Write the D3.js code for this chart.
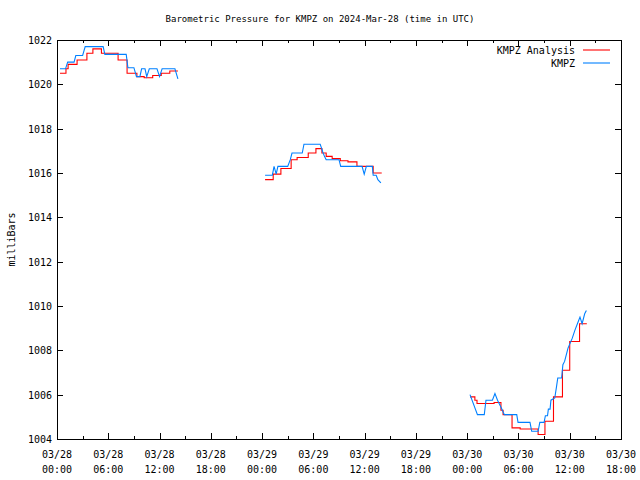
<!DOCTYPE html>
<html>
<head>
<meta charset="utf-8">
<script src="https://cdn.jsdelivr.net/npm/d3@7"></script>
<style>
  body { margin: 0; background: #fff; }
  #chart { width: 640px; height: 480px; }
  text { font-family: "DejaVu Sans Mono", monospace; font-size: 10px; fill: #000; }
  .axis path, .axis line { stroke: #000; shape-rendering: crispEdges; }
</style>
</head>
<body>
<div id="chart"></div>
<script>
// hours since 2024-03-28 00:00 UTC, value in mb
const analysisDay1 = [[0.35,1020.5],[1.05,1020.7],[1.3,1020.9],[2.35,1021.1],[3.5,1021.4],[4.2,1021.6],[5.2,1021.4],[7.15,1021.1],[8.2,1020.5],[9.35,1020.35],[10.2,1020.3],[11.2,1020.4],[12.2,1020.5],[13.2,1020.6],[14.15,1020.6]];
const analysisDay2 = [[24.35,1015.7],[25.3,1015.95],[26.2,1016.2],[27.4,1016.6],[28.1,1016.7],[29.4,1016.9],[30.3,1017.1],[31.0,1016.9],[31.5,1016.75],[32.2,1016.65],[33.15,1016.55],[34.05,1016.5],[35.1,1016.3],[37.0,1016.0],[38.0,1016.0]];
const analysisDay3 = [[48.33,1005.9],[48.9,1005.75],[49.15,1005.6],[51.15,1005.65],[51.95,1005.3],[52.2,1005.1],[53.25,1004.5],[54.2,1004.45],[56.3,1004.2],[57.1,1004.8],[58.1,1005.9],[59.15,1007.1],[60.0,1008.4],[61.15,1009.2],[62.0,1009.2]];

const obsDay1 = [[0.35,1020.7],[1.0,1020.7],[1.25,1021.0],[2.0,1021.0],[2.2,1021.3],[3.0,1021.3],[3.3,1021.7],[5.4,1021.7],[5.6,1021.35],[8.1,1021.35],[8.3,1020.75],[9.0,1020.75],[9.3,1020.35],[9.7,1020.35],[9.9,1020.7],[10.3,1020.7],[10.5,1020.35],[10.8,1020.7],[11.7,1020.7],[12.0,1020.35],[12.3,1020.7],[13.8,1020.7],[14.15,1020.25]];
const obsDay2 = [[24.35,1015.9],[25.2,1015.9],[25.4,1016.3],[25.65,1015.95],[25.85,1016.3],[27.0,1016.3],[27.3,1016.6],[27.5,1016.9],[28.7,1016.9],[28.9,1017.3],[30.8,1017.3],[31.1,1016.95],[31.3,1016.75],[31.5,1016.6],[33.0,1016.6],[33.2,1016.3],[35.7,1016.3],[35.95,1015.95],[36.2,1016.3],[36.9,1016.3],[37.0,1015.9],[37.35,1015.9],[37.55,1015.7],[37.9,1015.55]];
const obsDay3 = [[48.33,1006.0],[49.2,1005.1],[50.0,1005.1],[50.2,1005.75],[50.95,1005.75],[51.25,1006.05],[51.55,1005.75],[52.0,1005.4],[52.35,1005.1],[53.8,1005.1],[53.95,1004.75],[55.35,1004.75],[55.55,1004.35],[56.3,1004.35],[56.5,1004.75],[57.0,1004.75],[57.15,1005.05],[57.4,1005.05],[57.5,1005.35],[57.7,1005.35],[57.8,1005.75],[58.25,1005.85],[58.45,1006.35],[58.6,1006.75],[59.05,1006.75],[59.2,1007.35],[59.4,1007.5],[59.8,1008.1],[60.3,1008.55],[60.6,1008.9],[61.0,1009.3],[61.2,1009.5],[61.45,1009.2],[61.75,1009.65],[61.95,1009.8]];

const xTickHours = [0, 6, 12, 18, 24, 30, 36, 42, 48, 54, 60, 66];
const xTickDates = ["03/28","03/28","03/28","03/28","03/29","03/29","03/29","03/29","03/30","03/30","03/30","03/30"];
const xTickTimes = ["00:00","06:00","12:00","18:00","00:00","06:00","12:00","18:00","00:00","06:00","12:00","18:00"];
const yTicks = [1004, 1006, 1008, 1010, 1012, 1014, 1016, 1018, 1020, 1022];

/*
SVG CANVAS
*/
const width = 640, height = 480;
const margin = {top: 40, left: 57, right: 19, bottom: 41};

const canvas = d3.select("#chart")
    .append("svg")
    .attr("width", width)
    .attr("height", height);

/*
SCALES
*/
const xScale = d3.scaleLinear()
    .domain([0, 66])
    .range([margin.left, width - margin.right]);

const yScale = d3.scaleLinear()
    .domain([1004, 1022])
    .range([height - margin.bottom, margin.top]);

/*
AXES (ticks point inward, mirrored)
*/
const minorHours = d3.range(0, 67, 3);

canvas.append("g").attr("class", "axis")
    .attr("transform", `translate(0,${height - margin.bottom})`)
    .call(d3.axisBottom(xScale).tickValues(minorHours).tickSize(-3).tickFormat(""))
    .call(g => g.select(".domain").remove());
canvas.append("g").attr("class", "axis")
    .attr("transform", `translate(0,${height - margin.bottom})`)
    .call(d3.axisBottom(xScale).tickValues(xTickHours).tickSize(-6).tickFormat(""))
    .call(g => g.select(".domain").remove());
canvas.append("g").attr("class", "axis")
    .attr("transform", `translate(0,${margin.top})`)
    .call(d3.axisTop(xScale).tickValues(minorHours).tickSize(-3).tickFormat(""))
    .call(g => g.select(".domain").remove());
canvas.append("g").attr("class", "axis")
    .attr("transform", `translate(0,${margin.top})`)
    .call(d3.axisTop(xScale).tickValues(xTickHours).tickSize(-6).tickFormat(""))
    .call(g => g.select(".domain").remove());

canvas.append("g").attr("class", "axis")
    .attr("transform", `translate(${margin.left},0)`)
    .call(d3.axisLeft(yScale).tickValues(yTicks).tickSize(-6).tickFormat(""))
    .call(g => g.select(".domain").remove());
canvas.append("g").attr("class", "axis")
    .attr("transform", `translate(${width - margin.right},0)`)
    .call(d3.axisRight(yScale).tickValues(yTicks).tickSize(-6).tickFormat(""))
    .call(g => g.select(".domain").remove());

// y labels
canvas.selectAll(".ylab")
    .data(yTicks)
    .enter()
    .append("text")
    .attr("x", margin.left - 5)
    .attr("y", d => yScale(d) + 4)
    .attr("text-anchor", "end")
    .text(d => d);

// x labels, two lines
const xl = canvas.selectAll(".xlab")
    .data(xTickHours)
    .enter()
    .append("text")
    .attr("text-anchor", "middle");
xl.append("tspan")
    .attr("x", d => xScale(d))
    .attr("y", height - margin.bottom + 19)
    .text((d, i) => xTickDates[i]);
xl.append("tspan")
    .attr("x", d => xScale(d))
    .attr("y", height - margin.bottom + 34)
    .text((d, i) => xTickTimes[i]);

// border
canvas.append("rect")
    .attr("x", margin.left + 0.5)
    .attr("y", margin.top + 0.5)
    .attr("width", width - margin.left - margin.right)
    .attr("height", height - margin.top - margin.bottom)
    .attr("fill", "none")
    .attr("stroke", "#000")
    .attr("shape-rendering", "crispEdges");

/*
TITLE AND LABELS
*/
canvas.append("text")
    .attr("x", width / 2)
    .attr("y", 22)
    .attr("text-anchor", "middle")
    .style("font-size", "9px")
    .text("Barometric Pressure for KMPZ on 2024-Mar-28 (time in UTC)");

canvas.append("text")
    .attr("transform", "rotate(-90)")
    .attr("x", -(margin.top + (height - margin.top - margin.bottom) / 2))
    .attr("y", 15)
    .attr("text-anchor", "middle")
    .text("milliBars");

/*
LINES
*/
const stepLine = d3.line()
    .x(d => xScale(d[0]))
    .y(d => yScale(d[1]))
    .curve(d3.curveStepAfter);
const obsLine = d3.line()
    .x(d => xScale(d[0]))
    .y(d => yScale(d[1]));

[analysisDay1, analysisDay2, analysisDay3].forEach(function(s) {
    canvas.append("path")
        .attr("d", stepLine(s))
        .attr("fill", "none")
        .attr("stroke", "#ff0000")
        .attr("stroke-width", 1.1);
});
[obsDay1, obsDay2, obsDay3].forEach(function(s) {
    canvas.append("path")
        .attr("d", obsLine(s))
        .attr("fill", "none")
        .attr("stroke", "#0080ff")
        .attr("stroke-width", 1.1);
});

/*
LEGEND
*/
const legend = [{name: "KMPZ Analysis", color: "#ff0000"}, {name: "KMPZ", color: "#0080ff"}];
legend.forEach(function(d, i) {
    const ly = 50 + i * 13;
    canvas.append("text")
        .attr("x", 575)
        .attr("y", ly + 4)
        .attr("text-anchor", "end")
        .text(d.name);
    canvas.append("line")
        .attr("x1", 583).attr("x2", 610)
        .attr("y1", ly).attr("y2", ly)
        .attr("stroke", d.color)
        .attr("stroke-width", 1.1);
});
</script>
</body>
</html>
